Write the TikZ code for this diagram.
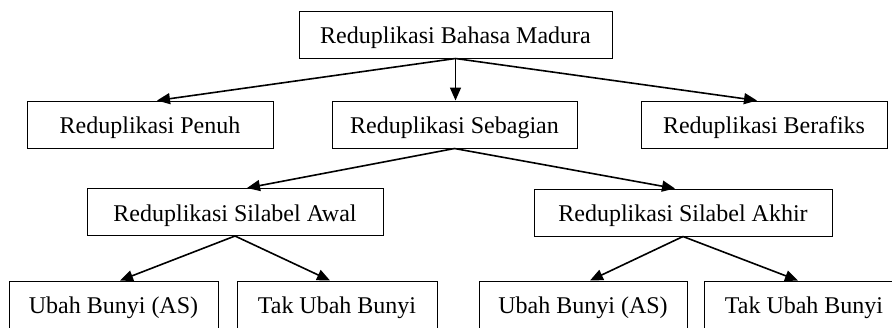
\documentclass[tikz,border=0pt]{standalone}
\usepackage{fontspec}
\setmainfont{Liberation Serif}
\usetikzlibrary{arrows.meta}
\begin{document}
\begin{tikzpicture}[x=0.5pt,y=-0.5pt,
  box/.style={draw,line width=0.5pt,inner sep=0pt,minimum height=23.5pt,text height=9pt,text depth=0pt,font=\fontsize{12}{14}\selectfont},
  arr/.style={line width=0.8pt,-{Triangle[length=6.5pt,width=5.5pt]}}]
\useasboundingbox (0,0) rectangle (892,327);
\clip (0,0) rectangle (892,327);
\node[box,minimum width=156.5pt] (top) at (455.5,34.5) {Reduplikasi Bahasa Madura};
\node[box,minimum width=123pt] (penuh) at (150,124.5) {Reduplikasi Penuh};
\node[box,minimum width=122.5pt] (seb) at (454.5,124.5) {Reduplikasi Sebagian};
\node[box,minimum width=123pt] (ber) at (764,124.5) {Reduplikasi Berafiks};
\node[box,minimum width=148pt] (awal) at (235,212) {Reduplikasi Silabel Awal};
\node[box,minimum width=149pt] (akhir) at (683,212.5) {Reduplikasi Silabel Akhir};
\node[box,minimum width=104.5pt] (u1) at (113.5,304.5) {Ubah Bunyi (AS)};
\node[box,minimum width=100pt] (t1) at (337,304.5) {Tak Ubah Bunyi};
\node[box,minimum width=104pt] (u2) at (583,304.5) {Ubah Bunyi (AS)};
\node[box,minimum width=100pt] (t2) at (804,304.5) {Tak Ubah Bunyi};
\draw[arr] (top.south) -- ([xshift=3.5pt]penuh.north);
\draw[arr] (top.south) -- (seb.north-|top.south);
\draw[arr] (top.south) -- ([xshift=-3.5pt]ber.north);
\draw[arr] (seb.south) -- ([xshift=6pt]awal.north);
\draw[arr] (seb.south) -- ([xshift=-4pt]akhir.north);
\draw[arr] (awal.south) -- ([xshift=3.25pt]u1.north);
\draw[arr] (awal.south) -- ([xshift=-3.5pt]t1.north);
\draw[arr] (akhir.south) -- ([xshift=3.5pt]u2.north);
\draw[arr] (akhir.south) -- ([xshift=-3pt]t2.north);
\end{tikzpicture}
\end{document}
